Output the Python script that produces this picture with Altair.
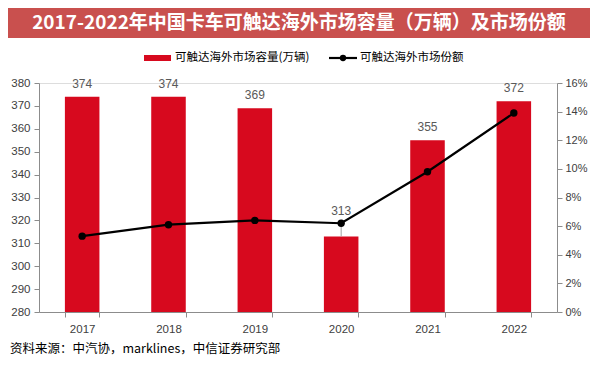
import altair as alt
import pandas as pd

years = ["2017", "2018", "2019", "2020", "2021", "2022"]
capacity = [374, 374, 369, 313, 355, 372]
share = [0.053, 0.061, 0.064, 0.062, 0.098, 0.139]

title_text = "2017-2022年中国卡车可触达海外市场容量（万辆）及市场份额"
legend_bar = "可触达海外市场容量(万辆)"
legend_line = "可触达海外市场份额"
source_text = "资料来源：中汽协，marklines，中信证券研究部"

df = pd.DataFrame({"year": years, "cap": capacity, "share": share})
one = pd.DataFrame({"k": [0]})

RED = "#D7091E"
AXC = "#8C8C8C"
LAB = "#404040"
NUMF = "Liberation Sans"
CJK = "Noto Sans CJK SC"

x_enc = alt.X(
    "year:O",
    sort=years,
    scale=alt.Scale(paddingInner=0.6, paddingOuter=0.3),
    axis=alt.Axis(
        title=None, labelAngle=0, tickBand="extent", domainColor=AXC,
        tickColor=AXC, tickSize=5, labelFontSize=11.5, labelColor=LAB,
        labelFont=NUMF, labelPadding=6, grid=False,
    ),
)
yl_scale = alt.Scale(domain=[280, 380], nice=False, zero=False)
yl_axis = alt.Axis(
    title=None, values=list(range(280, 381, 10)), grid=False,
    domainColor=AXC, tickColor=AXC, tickSize=5, labelFontSize=11.5,
    labelColor=LAB, labelFont=NUMF, labelPadding=4, labelOverlap=False,
)
yl = alt.Y("cap:Q", scale=yl_scale, axis=yl_axis)

base = alt.Chart(df)
bars = base.mark_bar(color=RED, clip=True).encode(
    x=x_enc, y=yl, y2=alt.datum(280)
)
labels = base.transform_filter(alt.datum.year != "2020").mark_text(
    dy=-13, fontSize=12, color="#595959", font=NUMF
).encode(x=x_enc, y=yl, text="cap:Q")
label20 = base.transform_filter(alt.datum.year == "2020").mark_text(
    dy=-25, fontSize=12, color="#595959", font=NUMF
).encode(x=x_enc, y=yl, text="cap:Q")
leader = base.transform_filter(alt.datum.year == "2020").transform_calculate(
    top="280 + datum.share / 0.16 * 100"
).mark_rule(color="#A0A0A0", strokeWidth=1).encode(
    x=x_enc, y=yl, y2="top:Q"
)
left = alt.layer(bars, leader, labels, label20)

yr = alt.Y(
    "share:Q",
    scale=alt.Scale(domain=[0, 0.16], nice=False),
    axis=alt.Axis(
        title=None, orient="right", format=".0%",
        values=[0, 0.02, 0.04, 0.06, 0.08, 0.10, 0.12, 0.14, 0.16],
        grid=False, domainColor=AXC, tickColor=AXC, tickSize=5,
        labelFontSize=11, labelColor=LAB, labelFont=NUMF, labelPadding=3,
        labelOverlap=False,
    ),
)
line = base.mark_line(color="#000000", strokeWidth=2.2).encode(x=x_enc, y=yr)
pts = base.mark_point(filled=True, color="#000000", size=55, opacity=1).encode(x=x_enc, y=yr)
right = alt.layer(line, pts)

main = alt.layer(left, right).resolve_scale(y="independent")

deco = alt.Chart(one)
title_bar = deco.mark_rect(color="#C9504E").encode(
    x=alt.value(-31), x2=alt.value(551), y=alt.value(-75), y2=alt.value(-45)
)
title_t = deco.mark_text(
    text=title_text, color="white", fontSize=19, fontWeight="bold", font=CJK,
    align="center", baseline="middle",
).encode(x=alt.value(260), y=alt.value(-60))
leg_rect = deco.mark_rect(color=RED).encode(
    x=alt.value(105), x2=alt.value(132), y=alt.value(-28), y2=alt.value(-22)
)
leg_t1 = deco.mark_text(
    text=legend_bar, fontSize=11.5, font=CJK, color="#000000", align="left", baseline="middle"
).encode(x=alt.value(136), y=alt.value(-25))
leg_line = deco.mark_rule(color="#000000", strokeWidth=2.2).encode(
    x=alt.value(290), x2=alt.value(318), y=alt.value(-25)
)
leg_pt = deco.mark_point(filled=True, color="#000000", size=40, opacity=1).encode(
    x=alt.value(304), y=alt.value(-25)
)
leg_t2 = deco.mark_text(
    text=legend_line, fontSize=11.5, font=CJK, color="#000000", align="left", baseline="middle"
).encode(x=alt.value(321), y=alt.value(-25))
src = deco.mark_text(
    text=source_text, fontSize=12.5, font=CJK, color="#000000", align="left", baseline="middle"
).encode(x=alt.value(-29), y=alt.value(266))

chart = alt.layer(
    main, title_bar, title_t, leg_rect, leg_t1, leg_line, leg_pt, leg_t2, src
).properties(
    width=518, height=229,
    autosize=alt.AutoSizeParams(type="none"),
    padding={"left": 31, "top": 75, "right": 33, "bottom": 44},
).configure_view(stroke=None).configure(background="white")

chart.save("out.html", embed_options={"renderer": "svg", "actions": False})
